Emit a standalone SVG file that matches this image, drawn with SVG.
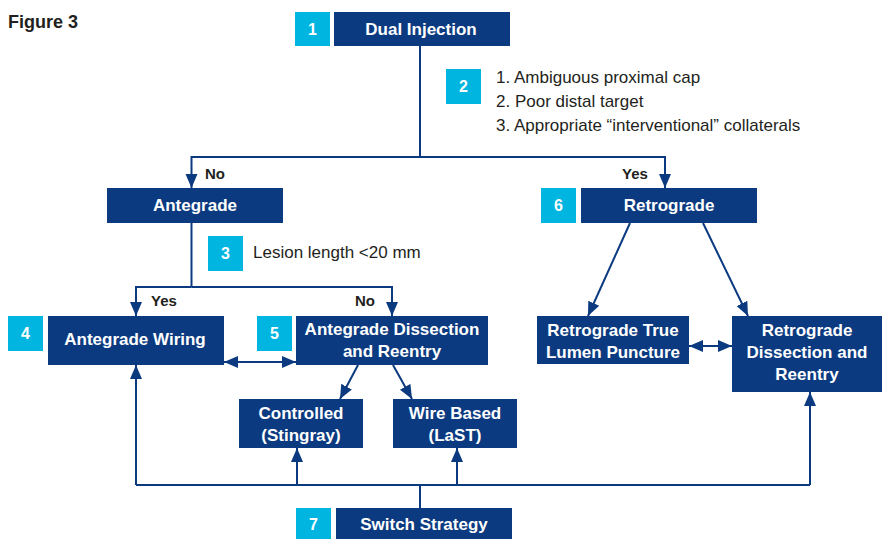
<svg xmlns="http://www.w3.org/2000/svg" width="882" height="539" viewBox="0 0 882 539">
<style>
.box{fill:#0b3a80}
.badge{fill:#00b5e0}
.bt{font-family:"Liberation Sans",Arial,sans-serif;font-weight:bold;font-size:17px;fill:#fff;text-anchor:middle}
.nt{font-family:"Liberation Sans",Arial,sans-serif;font-weight:bold;font-size:16px;fill:#fff;text-anchor:middle}
.lbl{font-family:"Liberation Sans",Arial,sans-serif;font-weight:bold;font-size:15px;fill:#231f20}
.txt{font-family:"Liberation Sans",Arial,sans-serif;font-size:17px;fill:#231f20}
.c{fill:none;stroke:#0b3a80;stroke-width:2}
</style>
<defs>
<marker id="ah" markerUnits="userSpaceOnUse" markerWidth="14" markerHeight="14" viewBox="0 0 14 12" refX="14" refY="6" orient="auto-start-reverse">
<path d="M0,0 L14,6 L0,12 z" fill="#0b3a80"/>
</marker>
</defs>
<rect width="882" height="539" fill="#fff"/>
<text x="8" y="28" class="lbl" style="font-size:18px">Figure 3</text>

<g id="connectors">
<path class="c" d="M420,46 V157"/>
<path class="c" d="M420,157 H191.5 V188" marker-end="url(#ah)"/>
<path class="c" d="M420,157 H665 V188" marker-end="url(#ah)"/>
<path class="c" d="M191.5,223 V287"/>
<path class="c" d="M191.5,287 H136 V316" marker-end="url(#ah)"/>
<path class="c" d="M191.5,287 H392 V316" marker-end="url(#ah)"/>
<path class="c" d="M224,362 H296" marker-start="url(#ah)" marker-end="url(#ah)"/>
<path class="c" d="M358,365 L340,399" marker-end="url(#ah)"/>
<path class="c" d="M393,365 L412,399" marker-end="url(#ah)"/>
<path class="c" d="M630,223 L588,316" marker-end="url(#ah)"/>
<path class="c" d="M703,223 L748,316" marker-end="url(#ah)"/>
<path class="c" d="M689,346 H732" marker-start="url(#ah)" marker-end="url(#ah)"/>
<path class="c" d="M420,508 V485"/>
<path class="c" d="M136,485 H810"/>
<path class="c" d="M136,485 V365" marker-end="url(#ah)"/>
<path class="c" d="M810,485 V392" marker-end="url(#ah)"/>
<path class="c" d="M297,485 V448" marker-end="url(#ah)"/>
<path class="c" d="M457,485 V448" marker-end="url(#ah)"/>
</g>

<g id="labels">
<text x="205" y="179" class="lbl">No</text>
<text x="622" y="179" class="lbl">Yes</text>
<text x="151" y="306" class="lbl">Yes</text>
<text x="355" y="306" class="lbl">No</text>
</g>

<g id="n1">
<rect class="badge" x="295" y="12" width="35" height="34"/>
<text x="312.5" y="35" class="nt">1</text>
<rect class="box" x="334" y="12" width="176" height="34"/>
<text x="421" y="35" class="bt">Dual Injection</text>
</g>

<g id="n2">
<rect class="badge" x="446" y="69" width="35" height="35"/>
<text x="463.5" y="92" class="nt">2</text>
<text x="496" y="83" class="txt">1. Ambiguous proximal cap</text>
<text x="496" y="107" class="txt">2. Poor distal target</text>
<text x="496" y="131" class="txt">3. Appropriate “interventional” collaterals</text>
</g>

<g id="antegrade">
<rect class="box" x="107" y="188" width="176" height="35"/>
<text x="195" y="211" class="bt">Antegrade</text>
</g>

<g id="n3">
<rect class="badge" x="208" y="236" width="35" height="35"/>
<text x="225.5" y="259" class="nt">3</text>
<text x="253" y="258" class="txt">Lesion length &lt;20 mm</text>
</g>

<g id="n4">
<rect class="badge" x="8" y="316" width="35" height="35"/>
<text x="25.5" y="339" class="nt">4</text>
<rect class="box" x="48" y="316" width="176" height="49"/>
<text x="135" y="345" class="bt">Antegrade Wiring</text>
</g>

<g id="n5">
<rect class="badge" x="257" y="316" width="35" height="35"/>
<text x="274.5" y="339" class="nt">5</text>
<rect class="box" x="296" y="316" width="192" height="49"/>
<text x="392" y="335" class="bt">Antegrade Dissection</text>
<text x="392" y="357" class="bt">and Reentry</text>
</g>

<g id="controlled">
<rect class="box" x="239" y="399" width="124" height="49"/>
<text x="301" y="419" class="bt">Controlled</text>
<text x="301" y="441" class="bt">(Stingray)</text>
</g>

<g id="wirebased">
<rect class="box" x="393" y="399" width="124" height="49"/>
<text x="455" y="419" class="bt">Wire Based</text>
<text x="455" y="441" class="bt">(LaST)</text>
</g>

<g id="n6">
<rect class="badge" x="541" y="188" width="35" height="35"/>
<text x="558.5" y="211" class="nt">6</text>
<rect class="box" x="581" y="188" width="176" height="35"/>
<text x="669" y="211" class="bt">Retrograde</text>
</g>

<g id="rtlp">
<rect class="box" x="537" y="316" width="152" height="48"/>
<text x="613" y="336" class="bt">Retrograde True</text>
<text x="613" y="358" class="bt">Lumen Puncture</text>
</g>

<g id="rdr">
<rect class="box" x="732" y="316" width="150" height="76"/>
<text x="807" y="336" class="bt">Retrograde</text>
<text x="807" y="358" class="bt">Dissection and</text>
<text x="807" y="380" class="bt">Reentry</text>
</g>

<g id="n7">
<rect class="badge" x="296" y="508" width="35" height="31"/>
<text x="313.5" y="530" class="nt">7</text>
<rect class="box" x="336" y="508" width="176" height="31"/>
<text x="424" y="530" class="bt">Switch Strategy</text>
</g>
</svg>
